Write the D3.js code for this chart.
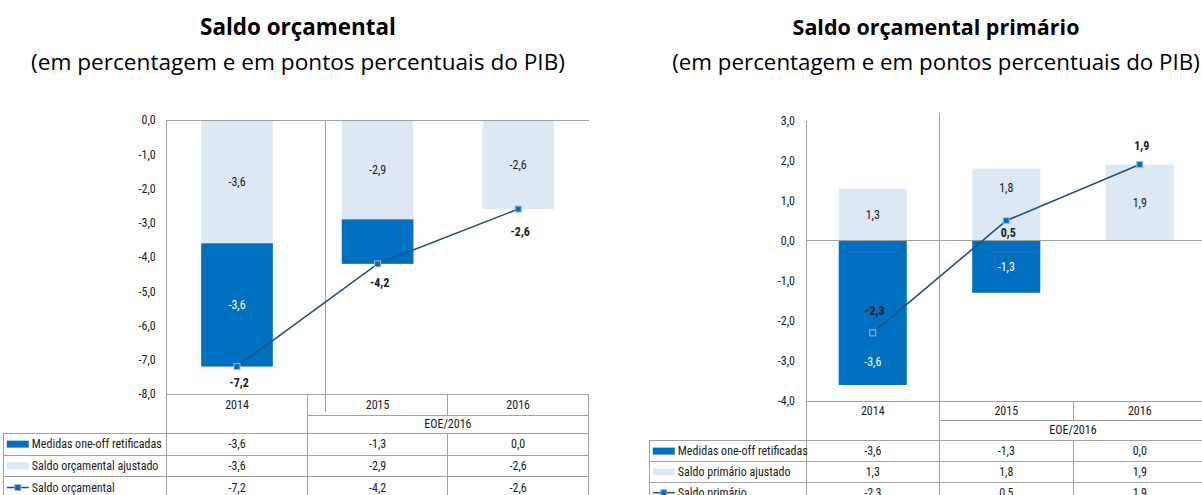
<!DOCTYPE html>
<html><head><meta charset="utf-8">
<script src="https://cdn.jsdelivr.net/npm/d3@7"></script>
<style>
html,body{margin:0;padding:0;background:#fff;}
svg{display:block;}
.t{font-family:"Liberation Sans Narrow","Roboto Condensed","Liberation Sans",sans-serif;font-size:12px;fill:#1a1a1a;}
.ttl{font-family:"Open Sans","Noto Sans",sans-serif;fill:#000;}
</style></head>
<body>
<svg id="c" width="1202" height="495"></svg>
<script>
// ---------- data ----------
const categories = ["2014", "2015", "2016"];
const periodLabel = "EOE/2016";

const leftTitle = "Saldo orçamental";
const leftSubtitle = "(em percentagem e em pontos percentuais do PIB)";
const leftOneOff = [-3.6, -1.3, 0.0];
const leftAdjusted = [-3.6, -2.9, -2.6];
const leftBalance = [-7.2, -4.2, -2.6];
const leftTicks = [0, -1, -2, -3, -4, -5, -6, -7, -8];
const leftLegend = ["Medidas one-off retificadas", "Saldo orçamental ajustado", "Saldo orçamental"];

const rightTitle = "Saldo orçamental primário";
const rightSubtitle = "(em percentagem e em pontos percentuais do PIB)";
const rightOneOff = [-3.6, -1.3, 0.0];
const rightAdjusted = [1.3, 1.8, 1.9];
const rightBalance = [-2.3, 0.5, 1.9];
const rightTicks = [3, 2, 1, 0, -1, -2, -3, -4];
const rightLegend = ["Medidas one-off retificadas", "Saldo primário ajustado", "Saldo primário"];

// ---------- styles ----------
const DARK = "#0070C0", LIGHT = "#DDE8F5", LINE = "#23507D", GRID = "#A0A0A0";
const fmt = v => d3.format(".1f")(v).replace(".", ",").replace("−", "-");

const svg = d3.select("#c");

function fitText(sel, target) {
  const w = sel.node().getComputedTextLength();
  const fs = parseFloat(sel.style("font-size"));
  sel.style("font-size", (fs * target / w) + "px");
}

function panel(cfg) {
  const g = svg.append("g");
  const x = d3.scaleBand().domain(categories).range(cfg.xRange).padding(0);
  const y = d3.scaleLinear().domain(cfg.yDomain).range(cfg.yRange);
  const bw = x.bandwidth() * 0.51;
  const cx = c => x(c) + x.bandwidth() / 2;

  // titles
  const t1 = g.append("text").attr("class", "ttl").attr("x", cfg.titleX).attr("y", 35)
    .attr("text-anchor", "middle").style("font-weight", "700").style("font-size", "20px").text(cfg.title);
  fitText(t1, cfg.titleW);
  const t2 = g.append("text").attr("class", "ttl").attr("x", cfg.titleX).attr("y", 70)
    .attr("text-anchor", "middle").style("font-size", "20px").text(cfg.subtitle);
  fitText(t2, cfg.subW);

  // stacked bars
  const rows = categories.map((c, i) => ({ cat: c, adjusted: cfg.adjusted[i], oneoff: cfg.oneoff[i] }));
  const stack = d3.stack().keys(["adjusted", "oneoff"]).offset(d3.stackOffsetDiverging)(rows);
  const colors = { adjusted: LIGHT, oneoff: DARK };
  stack.forEach(s => {
    g.append("g").selectAll("rect").data(s).join("rect")
      .attr("x", d => cx(d.data.cat) - bw / 2)
      .attr("width", bw)
      .attr("y", d => y(Math.max(d[0], d[1])))
      .attr("height", d => Math.abs(y(d[0]) - y(d[1])))
      .attr("fill", colors[s.key]);
  });

  // y axis
  const ax = g.append("g").attr("transform", `translate(${cfg.xRange[0]},0)`)
    .call(d3.axisLeft(y).tickValues(cfg.ticks).tickSize(0).tickPadding(11).tickFormat(fmt));
  ax.select(".domain").remove();
  ax.selectAll("text").attr("class", "t").attr("fill", "#1a1a1a").style("font-size", "12px");

  const line = (x1, y1, x2, y2) => g.append("line").attr("x1", x1).attr("y1", y1).attr("x2", x2).attr("y2", y2)
    .attr("stroke", GRID).attr("stroke-width", 1).attr("shape-rendering", "crispEdges");

  const xL = cfg.xRange[0], xR = x.range()[1];
  const yBot = y(cfg.yDomain[0]);
  // zero line & axis
  line(xL, y(0), cfg.zeroEnd, y(0));
  line(xL, y(cfg.yDomain[1]), xL, 495);
  line(xL, yBot, xR, yBot);
  // separator line (actual vs estimate)
  line(cfg.sepX, cfg.sepTop, cfg.sepX, cfg.sepBottom);

  // table
  const b1 = x("2015"), b2 = x("2016");
  const yearBottom = cfg.yearBottom, eoeBottom = cfg.eoeBottom, rh = cfg.rowH;
  line(b1, yBot, b1, 495);
  line(b2, yBot, b2, yearBottom);
  line(b2, eoeBottom, b2, 495);
  line(xR, yBot, xR, 495);
  line(b1, yearBottom, xR, yearBottom);
  for (let k = 0; k < 4; k++) line(cfg.tableLeft, eoeBottom + k * rh, xR, eoeBottom + k * rh);
  line(cfg.tableLeft, eoeBottom, cfg.tableLeft, 495);

  categories.forEach(c => {
    g.append("text").attr("class", "t").attr("x", cx(c)).attr("y", (yBot + yearBottom) / 2 + 4)
      .attr("text-anchor", "middle").text(c);
  });
  g.append("text").attr("class", "t").attr("x", (b1 + xR) / 2).attr("y", (yearBottom + eoeBottom) / 2 + 4)
    .attr("text-anchor", "middle").text(periodLabel);

  const series = [cfg.oneoff, cfg.adjusted, cfg.balance];
  series.forEach((vals, r) => {
    const yc = eoeBottom + rh * (r + 0.5);
    vals.forEach((v, i) => {
      g.append("text").attr("class", "t").attr("x", cx(categories[i])).attr("y", yc + 4)
        .attr("text-anchor", "middle").text(fmt(v));
    });
    g.append("text").attr("class", "t").attr("x", cfg.tableLeft + 28.5).attr("y", yc + 4).text(cfg.legend[r]);
    const sx = cfg.tableLeft + 3.5;
    if (r < 2) {
      g.append("rect").attr("x", sx).attr("y", yc - 3.5).attr("width", 22).attr("height", 7)
        .attr("fill", r === 0 ? DARK : LIGHT);
    } else {
      g.append("line").attr("x1", sx).attr("x2", sx + 22).attr("y1", yc).attr("y2", yc)
        .attr("stroke", LINE).attr("stroke-width", 1.5);
      g.append("rect").attr("x", sx + 8).attr("y", yc - 3).attr("width", 6).attr("height", 6)
        .attr("fill", DARK).attr("stroke", "#9fb4c8").attr("stroke-width", 0.8);
    }
  });

  // bar labels
  rows.forEach((d, i) => {
    const adjMid = y(d.adjusted / 2) + (cfg.adjNudge[i] || 0);
    g.append("text").attr("class", "t").attr("x", cx(d.cat)).attr("y", adjMid + 4)
      .attr("text-anchor", "middle").text(fmt(d.adjusted));
    if (cfg.showOneOff[i]) {
      const base = d.oneoff < 0 && d.adjusted < 0 ? d.adjusted : 0;
      const mid = y(base + d.oneoff / 2) + (cfg.oneNudge[i] || 0);
      g.append("text").attr("class", "t").attr("x", cx(d.cat)).attr("y", mid + 4)
        .attr("text-anchor", "middle").attr("fill", "#fff").style("fill", "#fff").text(fmt(d.oneoff));
    }
  });

  // line series
  const pts = categories.map((c, i) => [cx(c), y(cfg.balance[i])]);
  g.append("path").attr("d", d3.line()(pts)).attr("fill", "none").attr("stroke", LINE).attr("stroke-width", 1.6);
  g.append("g").selectAll("rect").data(pts).join("rect")
    .attr("x", p => p[0] - 3).attr("y", p => p[1] - 3).attr("width", 6).attr("height", 6)
    .attr("fill", DARK).attr("stroke", "#a9b9c9").attr("stroke-width", 1);
  pts.forEach((p, i) => {
    g.append("text").attr("class", "t").attr("x", p[0] + 2).attr("y", p[1] + cfg.balOffset[i] + 4)
      .attr("text-anchor", "middle").style("font-weight", "700").text(fmt(cfg.balance[i]));
  });
}

panel({
  title: leftTitle, subtitle: leftSubtitle, titleX: 298, titleW: 196, subW: 534,
  xRange: [166.7, 588.5], yDomain: [-8, 0], yRange: [394, 120],
  ticks: leftTicks, oneoff: leftOneOff, adjusted: leftAdjusted, balance: leftBalance,
  legend: leftLegend, zeroEnd: 588.5,
  sepX: 325.5, sepTop: 120, sepBottom: 412,
  yearBottom: 415, eoeBottom: 433.3, rowH: 21.7, tableLeft: 3.3,
  showOneOff: [true, false, false], adjNudge: [0, 0, 0], oneNudge: [0, 0, 0],
  balOffset: [16.5, 19, 23]
});

panel({
  title: rightTitle, subtitle: rightSubtitle, titleX: 936, titleW: 287, subW: 528,
  xRange: [806, 1206.5], yDomain: [-4, 3], yRange: [401, 120.5],
  ticks: rightTicks, oneoff: rightOneOff, adjusted: rightAdjusted, balance: rightBalance,
  legend: rightLegend, zeroEnd: 1202,
  sepX: 939.5, sepTop: 113, sepBottom: 495,
  yearBottom: 420, eoeBottom: 440.7, rowH: 20.8, tableLeft: 649.3,
  showOneOff: [true, true, false], adjNudge: [0, -17, 0], oneNudge: [49, 0, 0],
  balOffset: [-22, 12, -18.5]
});
</script>
</body></html>
